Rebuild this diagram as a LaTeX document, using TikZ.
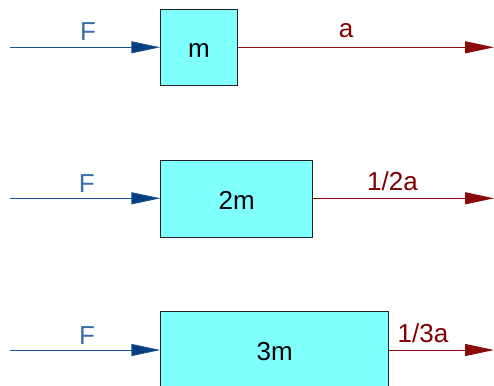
\documentclass[tikz,border=0pt]{standalone}
\usepackage{fontspec}
\setmainfont{Liberation Sans}
\usetikzlibrary{arrows.meta}
\definecolor{fblue}{HTML}{1F4F8C}
\definecolor{fbluetip}{HTML}{003F7F}
\definecolor{flabel}{HTML}{3A6EAE}
\definecolor{ared}{HTML}{8B0A0A}
\definecolor{alabel}{HTML}{800000}
\definecolor{boxfill}{HTML}{80FFFF}
\definecolor{boxline}{HTML}{222222}
\tikzset{
  massbox/.style={draw=boxline, fill=boxfill, line width=1pt, inner sep=0pt,
    text height=21pt, text depth=0pt, font=\fontsize{26}{31}\selectfont},
  fline/.style={draw=fblue, line width=1pt, -{Triangle[length=29pt,width=12pt,fill=fbluetip]}},
  aline/.style={draw=ared, line width=1pt, -{Triangle[length=29pt,width=12pt,fill=ared]}},
  flab/.style={text=flabel, anchor=base, inner sep=0pt, font=\fontsize{26}{31}\selectfont},
  alab/.style={text=alabel, anchor=base, inner sep=0pt, font=\fontsize{26}{31}\selectfont}
}
\begin{document}
\begin{tikzpicture}[x=1pt,y=-1pt]
\useasboundingbox (0,0) rectangle (494,385);
% row 1
\node[massbox, minimum width=76.5pt, minimum height=76.5pt] (m1) at (199,47.3) {m};
\coordinate (s1) at (10,47.3);
\coordinate (e1) at (494,47.3);
\draw[fline] (s1) -- (m1.west);
\draw[aline] (m1.east) -- (e1);
\node[flab] (f1) at (88,40.7) {F};
\node[alab] (a1) at (346,37.3) {a};
% row 2
\node[massbox, minimum width=151.7pt, minimum height=77.3pt] (m2) at (236.8,198.7) {2m};
\coordinate (s2) at (10,198.3);
\coordinate (e2) at (494,198.3);
\draw[fline] (s2) -- (s2 -| m2.west);
\draw[aline] (e2 -| m2.east) -- (e2);
\node[flab] (f2) at (86.7,192.7) {F};
\node[alab] (a2) at (392.5,190) {1/2a};
% row 3
\node[massbox, minimum width=227.7pt, minimum height=76pt] (m3) at (274.8,349.7) {3m};
\coordinate (s3) at (10,350);
\coordinate (e3) at (494,350);
\draw[fline] (s3) -- (s3 -| m3.west);
\draw[aline] (e3 -| m3.east) -- (e3);
\node[flab] (f3) at (87,344.3) {F};
\node[alab] (a3) at (423,342.3) {1/3a};
\end{tikzpicture}
\end{document}
